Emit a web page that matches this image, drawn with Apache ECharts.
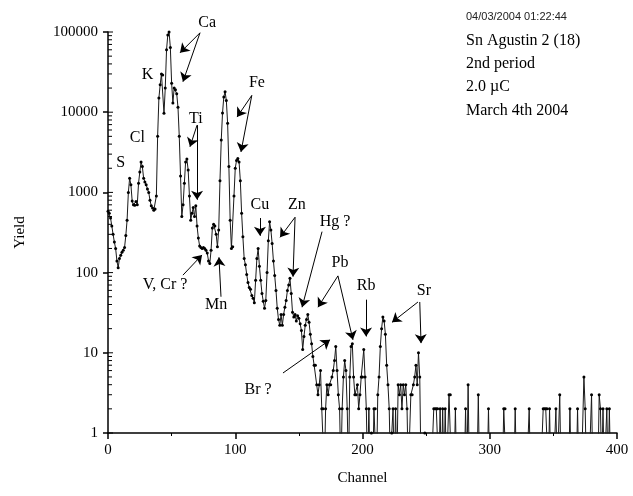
<!DOCTYPE html>
<html><head><meta charset="utf-8">
<script src="https://cdn.jsdelivr.net/npm/echarts@6/dist/echarts.min.js"></script>
<style>html,body{margin:0;padding:0;background:#fff}#c{width:633px;height:496px}</style>
</head><body><div id="c"></div>
<script>
// Yield per channel (channel = index, 0..399); 0 = no counts
const counts = [
580,550,480,380,300,240,200,140,115,150,
165,180,190,205,290,450,1000,1500,1250,780,
700,690,770,700,1300,1800,2400,2100,1500,1350,
1250,1100,1000,800,680,640,600,620,900,5000,
15000,22000,30000,29000,9700,20000,60000,92000,100000,64000,
23000,13000,20000,19000,17000,11500,5000,1600,500,700,
1300,2400,2600,1900,900,450,550,650,500,680,
380,270,215,205,200,205,200,190,175,140,
130,190,360,400,380,300,210,340,1400,4500,
9800,15500,18000,14000,7300,2100,450,200,210,900,
2000,2500,2650,2400,1400,550,280,150,125,95,
75,65,62,52,48,42,80,150,200,120,
80,55,44,36,45,100,250,430,340,230,
140,92,60,36,26,22,30,22,30,37,
45,60,70,85,55,32,28,30,25,29,
27,23,19,11,16,22,26,30,24,17,
13,9,7,7,4,3,4,6,2,2,
0,2,4,3,4,4,5,6,8,12,
6,3,2,0,2,5,8,6,2,0,
5,12,13,5,3,3,4,2,3,5,
5,11,5,2,0,2,0,1,0,2,
2,0,3,5,12,20,28,25,17,7,
4,2,0,1,2,0,2,0,4,3,
4,2,4,3,4,2,0,0,3,3,
4,5,7,4,10,5,0,0,0,1,
0,0,0,0,0,0,2,2,2,2,
0,2,0,2,0,2,0,0,3,3,
0,0,0,2,0,0,0,0,0,0,
0,2,0,4,0,0,0,0,0,0,
0,3,0,0,0,0,0,0,0,2,
0,0,0,0,0,0,0,0,0,0,
0,2,2,0,0,0,0,0,0,0,
2,0,0,0,0,0,0,0,0,0,
0,2,0,0,0,0,0,0,0,0,
0,0,2,2,2,2,0,2,0,0,
0,0,2,0,0,3,0,0,0,0,
0,0,0,2,0,0,0,0,0,2,
0,0,0,0,5,2,0,0,0,0,
3,0,0,0,0,0,3,2,0,2,
0,0,2,0,2,0,0,0,0,0
];
const xTickValues = [0, 100, 200, 300, 400];
const yTickValues = [1, 10, 100, 1000, 10000, 100000];

// Element annotations: label, anchor (channel, yield)
const annoLabels  = ['S', 'Cl', 'K', 'Ca', 'Ti', 'Fe', 'Cu', 'Zn', 'Hg ?', 'Pb', 'Rb', 'Sr', 'Br ?', 'V, Cr ?', 'Mn'];
const annoChannel = [10, 23, 31, 78, 69, 117, 119.4, 148.5, 178.4, 182.3, 202.8, 248.3, 117.9, 44.8, 84.9];
const annoYield   = [2340, 4800, 29000, 132000, 8300, 23400, 692, 692, 427, 132, 68, 60, 3.5, 71, 40];

// Arrows: from (channel, yield) to (channel, yield)
const arrowFrom = [[72.3, 97700], [72.3, 97700], [70, 6900], [70, 6900], [113, 16200], [113, 16200],
  [119.4, 479], [147, 490], [147, 490], [168.2, 324], [180.7, 91], [180.7, 91], [202.8, 46],
  [243.6, 43], [245, 43], [137.5, 5.6], [58.9, 93], [88.8, 50]];
const arrowTo = [[56.6, 55000], [58.9, 24000], [64.4, 3700], [70, 810], [101.4, 8700], [104.5, 3200],
  [119.4, 288], [135.2, 275], [145.4, 89], [152.5, 37], [165, 37], [192.5, 14.5], [202.8, 16],
  [223.2, 24], [246, 13.2], [174.5, 14.5], [73.9, 166], [87.2, 155]];

const infoLines = ['04/03/2004 01:22:44', 'Sn Agustin 2 (18)', '2nd period', '2.0 \u00B5C', 'March 4th 2004'];

const minorTickValues = [];
for (let d = 1; d <= 10000; d *= 10) for (let m = 2; m <= 9; m++) minorTickValues.push([0, m * d, 0]);
const majorTickValues = yTickValues.map(v => [0, v, 1]);

const serif = 'Liberation Serif';
const chart = echarts.init(document.getElementById('c'), null, {renderer: 'canvas'});
chart.setOption({
  animation: false,
  backgroundColor: '#fff',
  grid: {left: 108, right: 16, top: 32, bottom: 63},
  xAxis: {
    type: 'value', min: 0, max: 400, interval: 100,
    name: 'Channel', nameLocation: 'middle', nameGap: 38,
    nameTextStyle: {fontFamily: serif, fontSize: 15, color: '#000'},
    axisLine: {show: true, lineStyle: {color: '#000', width: 1.5}},
    axisTick: {show: true, length: 6, lineStyle: {color: '#000', width: 1.5}},
    minorTick: {show: true, splitNumber: 2, length: 3, lineStyle: {color: '#000'}},
    axisLabel: {fontFamily: serif, fontSize: 15, color: '#000', margin: 10,
      formatter: v => xTickValues.includes(v) ? String(v) : ''},
    splitLine: {show: false}
  },
  yAxis: {
    type: 'log', logBase: 10, min: 1, max: 100000,
    name: 'Yield', nameLocation: 'middle', nameGap: 80,
    nameTextStyle: {fontFamily: serif, fontSize: 15, color: '#000'},
    axisLine: {show: true, lineStyle: {color: '#000', width: 1.5}},
    axisTick: {show: true, length: 5, lineStyle: {color: '#000', width: 1.5}},
    axisLabel: {fontFamily: serif, fontSize: 15, color: '#000', margin: 10,
      formatter: v => String(Math.round(v))},
    splitLine: {show: false}
  },
  series: [
    {
      type: 'line', name: 'Yield',
      data: counts.map((v, i) => [i, v > 0 ? v : 0.3]),
      showSymbol: true, showAllSymbol: true, symbol: 'circle', symbolSize: 3,
      itemStyle: {color: '#000'},
      lineStyle: {color: '#1a1a1a', width: 1},
      clip: true, z: 3
    },
    {
      type: 'custom', name: 'yTicks', clip: false, silent: true,
      data: minorTickValues.concat(majorTickValues),
      renderItem: (params, api) => {
        const p = api.coord([0, api.value(1)]);
        const len = api.value(2) ? 5 : 4;
        return {type: 'line', shape: {x1: p[0], y1: p[1], x2: p[0] + len, y2: p[1]},
          style: {stroke: '#000', lineWidth: 1}};
      }
    },
    {
      type: 'lines', coordinateSystem: 'cartesian2d', name: 'arrows', silent: true,
      symbol: ['none', 'arrow'], symbolSize: 9,
      lineStyle: {color: '#000', width: 1, opacity: 1},
      data: arrowFrom.map((f, i) => ({coords: [f, arrowTo[i]]})),
      z: 4
    },
    {
      type: 'scatter', name: 'labels', clip: false, silent: true,
      symbolSize: 0, itemStyle: {opacity: 1, color: '#000'},
      data: annoLabels.map((t, i) => [annoChannel[i], annoYield[i], t]),
      label: {show: true, position: 'inside', formatter: p => p.value[2],
        fontFamily: serif, fontSize: 16, color: '#000', opacity: 1,
        textBorderWidth: 0, textShadowBlur: 0},
      z: 5
    }
  ],
  graphic: infoLines.map((t, i) => ({
    type: 'text', left: 466, top: [11, 33, 56, 79, 103][i],
    style: {text: t, fill: i === 0 ? '#222' : '#000',
      font: i === 0 ? '11px "Liberation Sans"' : '16px "Liberation Serif"'}
  }))
});
</script></body></html>
